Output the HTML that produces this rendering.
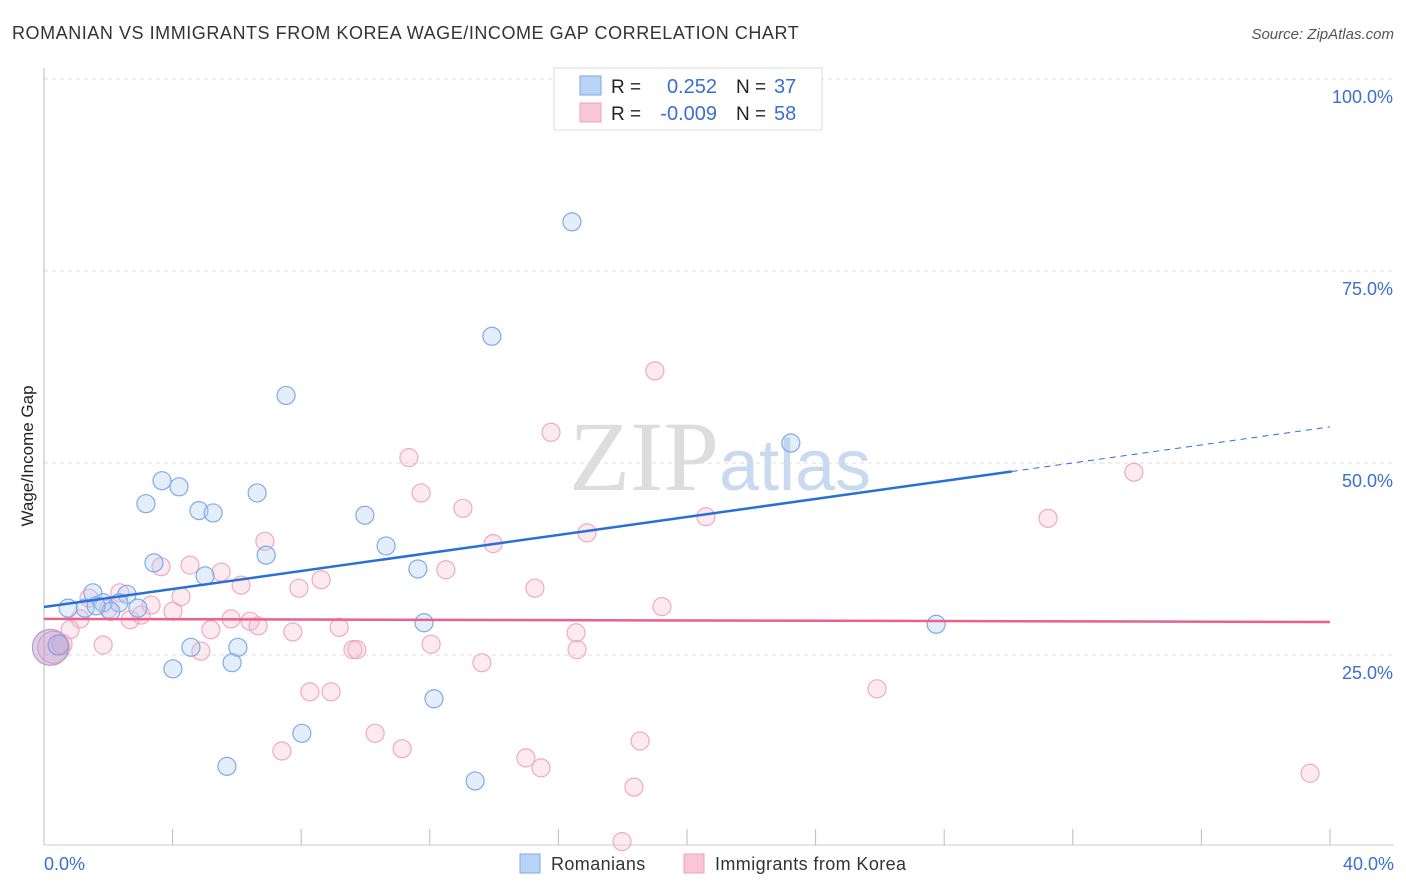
<!DOCTYPE html>
<html><head><meta charset="utf-8"><style>
body{margin:0;background:#fff;font-family:"Liberation Sans",sans-serif;}
svg{display:block}
</style></head><body>
<svg id="chart" width="1406" height="892">
<text x="12" y="39" font-size="18" fill="#333" letter-spacing="0.55">ROMANIAN VS IMMIGRANTS FROM KOREA WAGE/INCOME GAP CORRELATION CHART</text>
<text x="1394" y="39" font-size="15" fill="#555" font-style="italic" text-anchor="end">Source: ZipAtlas.com</text>
<text x="720" y="490" font-size="100" fill="#ddd" text-anchor="middle" font-family="Liberation Serif,serif">ZIP<tspan fill="#c9d9ef" font-family="Liberation Sans,sans-serif" font-size="72">atlas</tspan></text>
<g id="grid"></g><g id="axes"></g><g id="pts"></g><g id="trends"></g>
<text transform="translate(33,456) rotate(-90)" font-size="17" fill="#222" text-anchor="middle">Wage/Income Gap</text>
<text x="44" y="870" font-size="18" fill="#3a6fd1">0.0%</text>
<text x="1394" y="870" font-size="18" fill="#3a6fd1" text-anchor="end">40.0%</text>
<g>
<rect x="554" y="68" width="268" height="62" fill="#fff" stroke="#ddd"/>
<rect x="580" y="76" width="21" height="19" fill="#b9d3f6" stroke="#7aa9e6"/>
<rect x="580" y="103" width="21" height="19" fill="#f9c6d6" stroke="#eea0b9"/>
<text x="611" y="93" font-size="19" fill="#222">R = </text><text x="717" y="93" font-size="20" fill="#3a6fd1" text-anchor="end">0.252</text>
<text x="736" y="93" font-size="19" fill="#222">N = </text><text x="774" y="93" font-size="20" fill="#3a6fd1">37</text>
<text x="611" y="120" font-size="19" fill="#222">R = </text><text x="717" y="120" font-size="20" fill="#3a6fd1" text-anchor="end">-0.009</text>
<text x="736" y="120" font-size="19" fill="#222">N = </text><text x="774" y="120" font-size="20" fill="#3a6fd1">58</text>
</g>
<g>
<rect x="520" y="854" width="20" height="19" fill="#b9d3f6" stroke="#7aa9e6"/>
<text x="551" y="870" font-size="18" fill="#333" letter-spacing="0.4">Romanians</text>
<rect x="684" y="854" width="20" height="19" fill="#f9c6d6" stroke="#eea0b9"/>
<text x="715" y="870" font-size="18" fill="#333" letter-spacing="0.4">Immigrants from Korea</text>
</g>
</svg>
<script>
const yTicks=[25,50,75,100];
const yTickLabels=["25.0%","50.0%","75.0%","100.0%"];
const xTicks=[0,4,8,12,16,20,24,28,32,36,40];
const blueX=[16.42,13.93,7.53,23.23,3.67,4.20,3.17,6.63,4.82,5.26,9.98,10.64,3.42,6.91,11.63,5.01,1.52,2.58,0.75,1.28,1.84,2.33,2.08,2.92,11.82,27.75,4.57,6.03,4.01,5.85,12.13,8.02,5.69,13.41,0.44,1.62,0.2];
const blueY=[81.4,66.5,58.8,52.6,47.7,46.9,44.7,46.1,43.8,43.5,43.2,39.2,37.0,38.0,36.2,35.3,33.1,32.9,31.1,31.1,31.8,31.8,30.7,31.1,29.2,29.0,26.0,26.0,23.2,24.0,19.3,14.8,10.5,8.6,26.3,31.4,26.0];
const blueR=[9,9,9,9,9,9,9,9,9,9,9,9,9,9,9,9,9,9,9,9,9,9,9,9,9,9,9,9,9,9,9,9,9,9,10,9,18];
const pinkX=[19.0,15.77,11.35,33.9,11.73,13.03,20.59,31.23,16.89,13.97,6.87,4.54,3.64,5.51,12.5,8.62,6.13,7.93,15.27,4.26,2.36,1.40,3.33,19.22,4.01,3.02,1.12,2.68,5.82,6.41,5.19,6.66,9.18,7.74,0.81,16.55,1.84,12.04,4.88,9.61,9.73,16.58,13.62,25.91,8.27,8.93,10.30,18.54,7.40,11.14,14.99,15.46,39.38,18.35,17.98,0.56,0.3,2.0];
const pinkY=[62.0,54.0,50.7,48.8,46.1,44.1,43.0,42.8,40.9,39.5,39.8,36.7,36.5,35.8,36.1,34.8,34.1,33.7,33.7,32.6,33.1,32.4,31.5,31.3,30.7,30.2,29.7,29.6,29.7,29.4,28.3,28.8,28.6,28.0,28.3,27.9,26.3,26.4,25.5,25.7,25.7,25.7,24.0,20.6,20.2,20.2,14.8,13.8,12.5,12.8,11.6,10.3,9.6,7.8,0.7,26.4,26.0,31.0];
const pinkR=[9,9,9,9,9,9,9,9,9,9,9,9,9,9,9,9,9,9,9,9,9,9,9,9,9,9,9,9,9,9,9,9,9,9,9,9,9,9,9,9,9,9,9,9,9,9,9,9,9,9,9,9,9,9,9,10,16,9];
const blueTrend=[31.25,54.7], blueSolidEnd=30.1;
const pinkTrend=[29.7,29.3];
const NS="http://www.w3.org/2000/svg";
const X=v=>44+v/40*1286, Y=v=>847-v/25*192;
function mk(t,a,p){const e=document.createElementNS(NS,t);for(const k in a)e.setAttribute(k,a[k]);p.appendChild(e);return e;}
const grid=document.getElementById('grid'),axes=document.getElementById('axes');
yTicks.forEach((t,i)=>{
 const l=mk('line',{x1:44,x2:1394,y1:Y(t),y2:Y(t),stroke:'#ddd','stroke-dasharray':'4 4'},grid);
 
 
 const tx=mk('text',{x:1393,y:Y(t)+24,'font-size':18,fill:'#3a6fd1','text-anchor':'end'},grid);
 tx.textContent=yTickLabels[i];
 
 
});
const ax=mk('line',{x1:44,x2:44,y1:68,y2:845,stroke:'#bbb'},axes);


const bx=mk('line',{x1:44,x2:1394,y1:845,y2:845,stroke:'#ccc'},axes);


xTicks.forEach(t=>{
 const l=mk('line',{x1:X(t),x2:X(t),y1:829,y2:845,stroke:'#bbb'},axes);
 
 
});
const pts=document.getElementById('pts');
pinkX.forEach((v,i)=>{
 const c=mk('circle',{cx:X(v),cy:Y(pinkY[i]),r:pinkR[i],fill:'rgba(246,180,202,0.28)',stroke:'#f0a9c0','stroke-width':1.2},pts);
 
 
});
blueX.forEach((v,i)=>{
 const c=mk('circle',{cx:X(v),cy:Y(blueY[i]),r:blueR[i],fill:blueR[i]>15?'rgba(170,140,200,0.4)':'rgba(170,202,242,0.32)',stroke:blueR[i]>15?'#b39ad0':'#7fabe6','stroke-width':1.2},pts);
 
 
});
const tr=document.getElementById('trends');
const by=x=>blueTrend[0]+(blueTrend[1]-blueTrend[0])*x/40;
const b1=mk('line',{x1:X(0),y1:Y(by(0)),x2:X(blueSolidEnd),y2:Y(by(blueSolidEnd)),stroke:'#2a6fd8','stroke-width':2.5},tr);


const b2=mk('line',{x1:X(blueSolidEnd),y1:Y(by(blueSolidEnd)),x2:X(40),y2:Y(by(40)),stroke:'#2a6fd8','stroke-width':1,'stroke-dasharray':'6 5'},tr);


const p1=mk('line',{x1:X(0),y1:Y(pinkTrend[0]),x2:X(40),y2:Y(pinkTrend[1]),stroke:'#e8608e','stroke-width':2.5},tr);


</script>
</body></html>
